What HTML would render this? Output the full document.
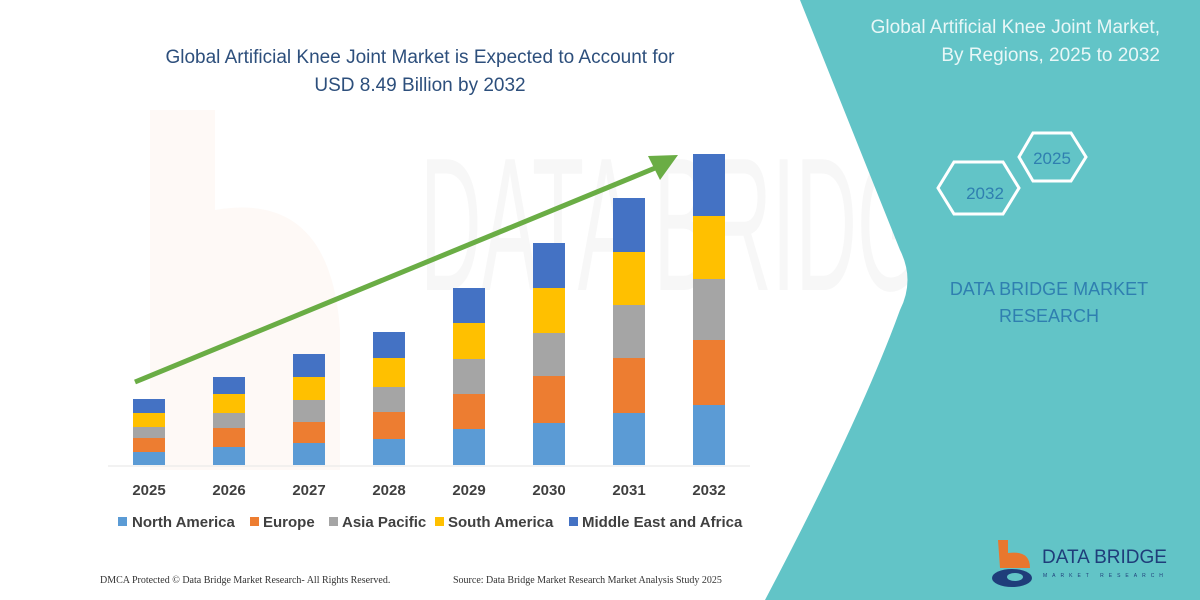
<!DOCTYPE html>
<html><head><meta charset="utf-8"><style>
html,body{margin:0;padding:0;background:#fff;}
svg{display:block;}
</style></head><body>
<svg width="1200" height="600" viewBox="0 0 1200 600" xmlns="http://www.w3.org/2000/svg" font-family="Liberation Sans, sans-serif">
<rect width="1200" height="600" fill="#fff"/>
<!-- faint watermark -->
<path d="M150 110 L215 110 L215 210 Q330 190 340 330 L340 470 L150 470 Z" fill="#fdf5f0" opacity="0.6"/>
<text x="420" y="290" font-size="190" fill="#f7f7f7" textLength="560" lengthAdjust="spacingAndGlyphs">DATA BRIDGE</text>
<!-- teal panel -->
<path d="M800 0 L1200 0 L1200 600 L765 600 Q860 420 900 310 Q915 280 900 250 Z" fill="#62c4c7"/>
<text x="1160" y="33" font-size="19" fill="#e8f7f7" text-anchor="end">Global Artificial Knee Joint Market,</text>
<text x="1160" y="61" font-size="19" fill="#e8f7f7" text-anchor="end">By Regions, 2025 to 2032</text>
<polygon points="1019,157 1033,133 1071,133 1086,157 1071,181 1033,181" fill="none" stroke="#fff" stroke-width="3"/>
<polygon points="938,188 954,162 1003,162 1019,188 1003,214 954,214" fill="none" stroke="#fff" stroke-width="3"/>
<text x="1052" y="164" font-size="17" fill="#2f7fb0" text-anchor="middle">2025</text>
<text x="985" y="199" font-size="17" fill="#2f7fb0" text-anchor="middle">2032</text>
<text x="1049" y="295" font-size="18" fill="#2f7fb0" text-anchor="middle">DATA BRIDGE MARKET</text>
<text x="1049" y="322" font-size="18" fill="#2f7fb0" text-anchor="middle">RESEARCH</text>
<!-- logo -->
<path d="M998 540 L1008 540 L1008 553 Q1030 550 1030 568 L1000 568 Z" fill="#e8772e"/>
<ellipse cx="1012" cy="578" rx="20" ry="9" fill="#1f3d7a"/>
<ellipse cx="1015" cy="577" rx="8" ry="4" fill="#62c4c7"/>
<text x="1042" y="563" font-size="19" fill="#1f3d7a">DATA BRIDGE</text>
<text x="1043" y="577" font-size="5" fill="#1f3d7a" letter-spacing="5">MARKET RESEARCH</text>
<!-- title -->
<text x="420" y="63" font-size="19" fill="#2d4f7c" text-anchor="middle">Global Artificial Knee Joint Market is Expected to Account for</text>
<text x="420" y="91" font-size="19" fill="#2d4f7c" text-anchor="middle">USD 8.49 Billion by 2032</text>
<!-- baseline -->
<line x1="108" y1="466" x2="750" y2="466" stroke="#e6e6e6" stroke-width="1"/>
<g>
<rect x="133" y="399" width="32" height="14" fill="#4472c4"/><rect x="133" y="413" width="32" height="14" fill="#ffc000"/><rect x="133" y="427" width="32" height="11" fill="#a5a5a5"/><rect x="133" y="438" width="32" height="14" fill="#ed7d31"/><rect x="133" y="452" width="32" height="13" fill="#5b9bd5"/>
<rect x="213" y="377" width="32" height="17" fill="#4472c4"/><rect x="213" y="394" width="32" height="19" fill="#ffc000"/><rect x="213" y="413" width="32" height="15" fill="#a5a5a5"/><rect x="213" y="428" width="32" height="19" fill="#ed7d31"/><rect x="213" y="447" width="32" height="18" fill="#5b9bd5"/>
<rect x="293" y="354" width="32" height="23" fill="#4472c4"/><rect x="293" y="377" width="32" height="23" fill="#ffc000"/><rect x="293" y="400" width="32" height="22" fill="#a5a5a5"/><rect x="293" y="422" width="32" height="21" fill="#ed7d31"/><rect x="293" y="443" width="32" height="22" fill="#5b9bd5"/>
<rect x="373" y="332" width="32" height="26" fill="#4472c4"/><rect x="373" y="358" width="32" height="29" fill="#ffc000"/><rect x="373" y="387" width="32" height="25" fill="#a5a5a5"/><rect x="373" y="412" width="32" height="27" fill="#ed7d31"/><rect x="373" y="439" width="32" height="26" fill="#5b9bd5"/>
<rect x="453" y="288" width="32" height="35" fill="#4472c4"/><rect x="453" y="323" width="32" height="36" fill="#ffc000"/><rect x="453" y="359" width="32" height="35" fill="#a5a5a5"/><rect x="453" y="394" width="32" height="35" fill="#ed7d31"/><rect x="453" y="429" width="32" height="36" fill="#5b9bd5"/>
<rect x="533" y="243" width="32" height="45" fill="#4472c4"/><rect x="533" y="288" width="32" height="45" fill="#ffc000"/><rect x="533" y="333" width="32" height="43" fill="#a5a5a5"/><rect x="533" y="376" width="32" height="47" fill="#ed7d31"/><rect x="533" y="423" width="32" height="42" fill="#5b9bd5"/>
<rect x="613" y="198" width="32" height="54" fill="#4472c4"/><rect x="613" y="252" width="32" height="53" fill="#ffc000"/><rect x="613" y="305" width="32" height="53" fill="#a5a5a5"/><rect x="613" y="358" width="32" height="55" fill="#ed7d31"/><rect x="613" y="413" width="32" height="52" fill="#5b9bd5"/>
<rect x="693" y="154" width="32" height="62" fill="#4472c4"/><rect x="693" y="216" width="32" height="63" fill="#ffc000"/><rect x="693" y="279" width="32" height="61" fill="#a5a5a5"/><rect x="693" y="340" width="32" height="65" fill="#ed7d31"/><rect x="693" y="405" width="32" height="60" fill="#5b9bd5"/>
</g>
<!-- arrow -->
<line x1="135" y1="382" x2="660" y2="166" stroke="#6aad45" stroke-width="5"/>
<polygon points="678,155 648,156 660,180" fill="#6aad45"/>
<g font-size="15" font-weight="bold" fill="#404040" text-anchor="middle">
<text x="149" y="495">2025</text><text x="229" y="495">2026</text><text x="309" y="495">2027</text><text x="389" y="495">2028</text><text x="469" y="495">2029</text><text x="549" y="495">2030</text><text x="629" y="495">2031</text><text x="709" y="495">2032</text>
</g>
<g font-size="15" font-weight="bold" fill="#404040">
<rect x="118" y="517" width="9" height="9" fill="#5b9bd5"/><text x="132" y="527">North America</text>
<rect x="250" y="517" width="9" height="9" fill="#ed7d31"/><text x="263" y="527">Europe</text>
<rect x="329" y="517" width="9" height="9" fill="#a5a5a5"/><text x="342" y="527">Asia Pacific</text>
<rect x="435" y="517" width="9" height="9" fill="#ffc000"/><text x="448" y="527">South America</text>
<rect x="569" y="517" width="9" height="9" fill="#4472c4"/><text x="582" y="527">Middle East and Africa</text>
</g>
<g font-family="Liberation Serif, serif" font-size="10" fill="#333">
<text x="100" y="583">DMCA Protected © Data Bridge Market Research-  All Rights Reserved.</text>
<text x="453" y="583">Source: Data Bridge Market Research  Market Analysis Study 2025</text>
</g>
</svg>
</body></html>
